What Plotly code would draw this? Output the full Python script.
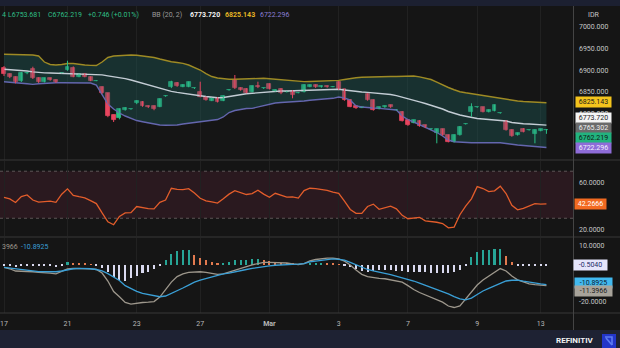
import plotly.graph_objects as go

W, H = 620, 348


def px(x):
    return x / W


def py(y):
    return 1 - y / H


# ---------------- data ----------------
tick_idx = [0, 11, 23, 34, 46, 58, 70, 82, 93]
tick_lbl = ["17", "21", "23", "27", "<b>Mar</b>", "3", "7", "9", "13"]

opens = [
    6905.3, 6891.5, 6884.6, 6875.4, 6893.0, 6903.0, 6882.3, 6873.8, 6881.6, 6877.7,
    6894.0, 6900.7, 6906.0, 6885.3, 6891.5, 6885.3, 6876.0, 6860.9, 6847.0, 6797.0,
    6789.4, 6808.6, 6810.0, 6824.0, 6827.7, 6817.8, 6817.8, 6816.2, 6840.5, 6860.9,
    6871.5, 6862.2, 6862.2, 6858.5, 6850.7, 6839.2, 6830.0, 6836.9, 6830.0, 6854.5,
    6877.7, 6859.9, 6857.6, 6850.0, 6864.5, 6858.5, 6868.4, 6852.3, 6857.6, 6850.5,
    6852.3, 6848.0, 6850.7, 6862.2, 6866.2, 6860.9, 6863.8, 6862.0, 6872.4, 6856.2,
    6831.6, 6817.8, 6814.0, 6845.4, 6831.6, 6811.6, 6814.8, 6820.1, 6808.0, 6804.6,
    6785.5, 6779.4, 6783.9, 6773.3, 6764.0, 6754.9, 6764.1, 6751.0, 6735.5, 6751.0,
    6776.0, 6804.6, 6814.5, 6814.8, 6804.6, 6806.9, 6801.0, 6783.9, 6762.5, 6751.0,
    6765.5, 6762.0, 6752.6, 6760.9, 6761.473]
highs = [
    6909.9, 6893.0, 6886.0, 6896.0, 6896.0, 6908.3, 6884.0, 6883.0, 6883.0, 6879.0,
    6895.0, 6922.1, 6909.0, 6892.0, 6893.0, 6886.0, 6877.0, 6863.0, 6848.0, 6798.0,
    6812.0, 6815.0, 6811.0, 6831.0, 6829.0, 6819.0, 6819.0, 6835.0, 6842.0, 6876.0,
    6873.0, 6868.0, 6874.0, 6860.0, 6873.8, 6840.0, 6837.0, 6838.0, 6842.0, 6856.0,
    6889.2, 6861.0, 6859.0, 6865.0, 6873.8, 6860.0, 6870.0, 6856.0, 6859.0, 6852.0,
    6854.0, 6849.5, 6868.0, 6867.5, 6867.5, 6865.0, 6865.0, 6863.5, 6875.0, 6857.0,
    6833.0, 6819.0, 6815.5, 6847.0, 6833.0, 6816.0, 6819.0, 6821.0, 6809.5, 6806.0,
    6787.0, 6786.0, 6785.0, 6774.5, 6765.5, 6765.5, 6765.5, 6752.0, 6752.5, 6771.5,
    6777.5, 6824.0, 6816.0, 6816.0, 6810.0, 6821.0, 6802.5, 6785.0, 6764.0, 6756.5,
    6767.0, 6763.5, 6764.0, 6765.5, 6764.5]
lows = [
    6886.9, 6882.0, 6870.0, 6873.0, 6891.0, 6880.0, 6871.0, 6872.0, 6876.0, 6871.0,
    6893.0, 6899.0, 6884.0, 6884.0, 6884.0, 6875.0, 6875.0, 6846.0, 6792.0, 6780.9,
    6787.0, 6807.0, 6809.0, 6822.0, 6816.0, 6813.0, 6808.0, 6815.0, 6839.0, 6859.0,
    6862.0, 6861.0, 6861.0, 6857.0, 6838.0, 6830.0, 6829.0, 6826.0, 6829.0, 6853.0,
    6857.0, 6853.0, 6847.0, 6849.0, 6859.0, 6857.0, 6856.0, 6851.0, 6845.0, 6849.0,
    6835.5, 6847.0, 6849.0, 6861.0, 6859.5, 6860.0, 6860.0, 6861.0, 6855.0, 6830.0,
    6815.0, 6811.0, 6813.0, 6830.0, 6807.0, 6810.0, 6813.5, 6813.5, 6807.0, 6782.0,
    6772.0, 6778.0, 6770.0, 6767.0, 6763.0, 6731.8, 6749.5, 6734.0, 6734.0, 6749.5,
    6775.0, 6793.1, 6813.5, 6803.0, 6803.0, 6805.5, 6800.0, 6761.0, 6747.0, 6749.5,
    6757.0, 6761.0, 6731.8, 6759.5, 6753.681]
closes = [
    6891.5, 6884.6, 6873.0, 6893.8, 6894.0, 6882.3, 6873.0, 6881.6, 6877.7, 6872.4,
    6894.5, 6908.3, 6885.3, 6890.8, 6885.3, 6876.1, 6876.5, 6848.4, 6794.7, 6785.5,
    6810.2, 6813.9, 6810.5, 6830.0, 6817.8, 6814.8, 6810.2, 6833.9, 6841.0, 6873.8,
    6863.8, 6866.2, 6873.0, 6859.0, 6839.2, 6831.6, 6835.5, 6827.7, 6840.8, 6855.0,
    6858.5, 6854.6, 6848.4, 6863.8, 6860.9, 6859.0, 6857.6, 6854.6, 6847.0, 6851.0,
    6843.1, 6848.5, 6866.2, 6866.2, 6860.9, 6863.8, 6860.9, 6862.5, 6856.2, 6831.6,
    6816.2, 6812.5, 6814.5, 6831.6, 6808.6, 6814.8, 6817.8, 6814.8, 6808.5, 6783.9,
    6774.0, 6784.8, 6771.7, 6768.7, 6764.5, 6764.1, 6751.0, 6735.5, 6751.0, 6770.1,
    6776.5, 6814.8, 6815.0, 6804.6, 6808.6, 6819.4, 6801.5, 6762.5, 6748.7, 6754.9,
    6758.6, 6762.5, 6762.5, 6764.1, 6762.219]

bb_upper = [
    6936.9, 6936.4, 6936.4, 6935.9, 6935.7, 6935.3, 6933.0, 6919.1, 6913.4, 6912.2,
    6913.4, 6915.7, 6915.7, 6913.4, 6912.2, 6911.5, 6911.1, 6919.1, 6929.5, 6933.0,
    6934.1, 6935.3, 6935.3, 6934.6, 6933.4, 6931.8, 6929.5, 6926.0, 6922.6, 6919.8,
    6918.0, 6916.1, 6912.2, 6906.5, 6900.7, 6892.6, 6885.7, 6882.3, 6880.0, 6879.3,
    6879.5, 6880.0, 6880.4, 6881.1, 6881.3, 6881.6, 6880.4, 6879.3, 6878.6, 6877.6,
    6875.3, 6873.7, 6874.0, 6874.4, 6874.9, 6875.3, 6875.8, 6876.0, 6876.9, 6878.8,
    6881.1, 6882.9, 6883.9, 6884.6, 6885.0, 6885.3, 6885.5, 6885.7, 6885.7, 6886.4,
    6886.9, 6886.9, 6885.0, 6882.7, 6878.8, 6873.0, 6866.1, 6860.4, 6855.3, 6850.7,
    6848.2, 6845.9, 6843.8, 6842.0, 6840.1, 6837.3, 6835.5, 6833.2, 6830.4, 6829.3,
    6828.1, 6827.4, 6827.0, 6826.5, 6825.143]
bb_mid = [
    6902.5, 6901.8, 6901.1, 6900.0, 6898.4, 6896.5, 6895.0, 6894.2, 6893.8, 6893.5,
    6893.3, 6893.1, 6892.6, 6892.1, 6891.7, 6891.2, 6890.8, 6889.6, 6887.3, 6885.7,
    6883.4, 6880.9, 6877.6, 6874.0, 6870.3, 6866.1, 6862.2, 6858.3, 6854.6, 6851.6,
    6849.3, 6847.0, 6844.9, 6843.1, 6841.5, 6839.6, 6838.0, 6836.9, 6837.3, 6839.6,
    6842.4, 6844.2, 6846.1, 6847.2, 6848.4, 6849.5, 6850.7, 6851.8, 6852.3, 6852.3,
    6852.8, 6853.7, 6854.6, 6855.1, 6855.5, 6855.8, 6856.0, 6856.2, 6856.2, 6854.6,
    6852.8, 6850.7, 6850.0, 6849.1, 6848.2, 6847.2, 6846.3, 6844.2, 6841.7, 6838.5,
    6835.0, 6831.6, 6827.4, 6823.5, 6819.6, 6816.1, 6810.8, 6805.1, 6800.5, 6797.0,
    6794.2, 6791.2, 6788.9, 6787.8, 6786.6, 6785.9, 6785.5, 6783.2, 6779.7, 6777.9,
    6776.9, 6776.3, 6775.8, 6775.3, 6773.720]
bb_lower = [
    6873.7, 6873.0, 6871.6, 6870.3, 6868.9, 6867.7, 6868.9, 6870.0, 6870.7, 6871.2,
    6871.4, 6871.4, 6871.4, 6871.4, 6871.4, 6870.7, 6866.1, 6843.1, 6822.3, 6810.8,
    6801.6, 6794.7, 6788.9, 6784.3, 6781.6, 6778.6, 6776.3, 6774.0, 6773.3, 6773.3,
    6774.0, 6776.3, 6778.1, 6780.2, 6782.0, 6783.2, 6784.8, 6786.6, 6792.4, 6802.8,
    6807.4, 6810.1, 6812.0, 6812.4, 6815.4, 6818.9, 6821.7, 6824.7, 6825.8, 6826.5,
    6827.0, 6827.7, 6829.3, 6830.9, 6832.1, 6833.2, 6834.3, 6835.5, 6838.5, 6836.2,
    6831.6, 6817.7, 6815.4, 6813.8, 6813.1, 6812.4, 6811.3, 6809.9, 6808.5, 6794.7,
    6786.6, 6780.9, 6775.1, 6769.4, 6763.6, 6756.7, 6748.6, 6739.4, 6735.3, 6734.1,
    6733.2, 6733.2, 6733.2, 6733.2, 6733.2, 6733.2, 6733.2, 6731.4, 6729.1, 6727.9,
    6726.7, 6725.6, 6724.4, 6723.3, 6722.296]

rsi = [
    47.8, 46.5, 43.4, 48.5, 49.8, 45.5, 43.8, 44.5, 44.6, 43.5,
    50.5, 55.0, 49.5, 48.3, 47.3, 45.0, 42.5, 34.5, 27.0, 24.5,
    31.5, 34.6, 34.7, 40.0, 39.0, 38.2, 38.0, 43.5, 45.5, 55.5,
    54.5, 54.3, 55.2, 51.5, 47.0, 44.8, 44.0, 42.9, 46.5, 50.5,
    53.4, 51.8, 50.2, 51.0, 53.8, 50.5, 47.8, 51.2, 49.5, 48.0,
    48.1, 47.2, 53.5, 55.5, 55.2, 54.6, 53.8, 52.3, 51.2, 44.5,
    37.5, 34.2, 34.2, 40.0, 42.0, 37.6, 38.9, 40.3, 38.0, 32.5,
    29.6, 30.5, 30.8, 27.8, 27.3, 26.6, 25.5, 21.8, 22.5, 33.0,
    40.3, 46.5, 56.9, 55.3, 52.7, 53.3, 57.3, 51.0, 41.0, 37.2,
    38.4, 40.6, 42.5, 42.1, 42.2666]

macd = [
    -1.6, -2.3, -3.5, -3.5, -3.7, -3.9, -4.2, -4.3, -4.6, -5.1,
    -3.8, -2.4, -2.1, -2.1, -2.3, -2.4, -2.7, -4.6, -8.9, -14.6,
    -17.4, -20.5, -21.4, -20.8, -20.5, -20.3, -20.0, -17.6, -13.8, -9.5,
    -6.5, -5.1, -4.3, -4.1, -3.9, -4.2, -4.9, -5.3, -5.1, -4.1,
    -3.0, -1.9, -1.2, -0.2, 0.5, 1.1, 1.2, 1.1, 0.9, 0.8,
    0.3, 0.0, 0.5, 1.9, 2.7, 3.1, 3.4, 3.4, 3.0, 1.8,
    -0.3, -3.0, -5.3, -6.5, -7.1, -7.5, -7.7, -8.4, -8.9, -9.5,
    -11.4, -13.5, -15.1, -16.5, -17.8, -19.0, -20.3, -22.4, -23.2, -22.3,
    -18.6, -14.9, -11.1, -8.4, -6.2, -4.1, -2.2, -3.5, -6.2, -8.3,
    -9.6, -10.5, -10.9, -11.2, -11.3966]
signal = [
    -1.6, -1.9, -2.3, -2.6, -3.0, -3.4, -3.8, -3.9, -3.9, -3.9,
    -3.5, -2.7, -2.3, -2.1, -2.1, -2.3, -2.7, -3.5, -4.9, -6.8,
    -8.6, -11.4, -13.0, -14.5, -15.6, -16.3, -17.0, -17.4, -17.0, -15.7,
    -14.3, -12.7, -11.1, -9.5, -8.4, -7.5, -6.8, -5.9, -5.1, -4.6,
    -4.1, -3.4, -2.7, -2.1, -1.5, -1.1, -0.7, -0.4, -0.1, 0.1,
    0.1, 0.2, 0.5, 1.4, 1.9, 2.3, 2.7, 3.0, 2.8, 2.4,
    1.1, -0.3, -1.4, -2.7, -3.5, -4.3, -4.8, -5.4, -6.2, -7.0,
    -7.8, -8.9, -10.0, -11.1, -12.4, -13.5, -14.6, -15.9, -17.3, -18.6,
    -19.1, -18.1, -16.2, -14.3, -12.9, -11.6, -10.0, -8.9, -8.5, -8.4,
    -9.0, -9.6, -10.1, -10.5, -10.8925]
hist = [
    -0.8, -1.0, -1.3, -1.0, -0.8, -0.6, -0.6, -0.5, -0.7, -1.1,
    -0.4, 1.2, 0.8, 0.6, 0.4, 0.1, -0.6, -2.1, -3.9, -6.6,
    -8.4, -9.0, -7.5, -6.0, -4.8, -3.9, -2.4, -0.8, 2.4, 5.5,
    7.3, 7.8, 7.9, 5.1, 3.4, 2.4, 1.5, 0.6, 0.8, 1.5,
    2.2, 2.5, 2.7, 2.9, 3.0, 2.4, 2.0, 1.6, 1.0, 0.7,
    0.3, -0.1, 0.0, 0.5, 0.8, 0.8, 0.7, 0.4, 0.2, -0.5,
    -1.5, -2.5, -3.5, -3.9, -3.6, -3.2, -3.0, -3.2, -3.3, -3.5,
    -3.8, -4.0, -4.1, -4.3, -4.4, -4.5, -4.7, -4.8, -4.2, -2.8,
    -0.8, 3.8, 6.5, 7.6, 8.0, 8.2, 8.4, 4.5, 1.2, -0.3,
    -0.4, -0.5, -0.5, -0.5, -0.504]

price_ticks = [6800, 6850, 6900, 6950, 7000]
rsi_ticks = [20, 60]
macd_ticks = [10, -20]

# ---------------- style ----------------
BG = "#151515"
NAVY = "#1c2031"
SEP = "#393939"
GRID = "#212121"
FONT = "Roboto"
UP, DOWN = "#2bbf86", "#e8455f"

xs = list(range(len(closes)))
hist_colors = []
for i, v in enumerate(hist):
    prev = hist[i - 1] if i > 0 else 0
    if v < 0:
        hist_colors.append("#d9d9ef")
    elif v >= prev:
        hist_colors.append("#27a596")
    else:
        hist_colors.append("#e27a4f")

fig = go.Figure()

# Bollinger band fill + lines
fig.add_trace(go.Scatter(x=xs, y=bb_lower, mode="lines", line=dict(width=0),
                         hoverinfo="skip", xaxis="x", yaxis="y"))
fig.add_trace(go.Scatter(x=xs, y=bb_upper, mode="lines", line=dict(width=0),
                         fill="tonexty", fillcolor="rgba(30,98,94,0.37)",
                         hoverinfo="skip", xaxis="x", yaxis="y"))
fig.add_trace(go.Scatter(x=xs, y=bb_upper, mode="lines",
                         line=dict(color="#9e8a24", width=1.4), xaxis="x", yaxis="y"))
fig.add_trace(go.Scatter(x=xs, y=bb_mid, mode="lines",
                         line=dict(color="#c3ccd4", width=1.4), xaxis="x", yaxis="y"))
fig.add_trace(go.Scatter(x=xs, y=bb_lower, mode="lines",
                         line=dict(color="#6466ae", width=1.4), xaxis="x", yaxis="y"))

# candles: wicks + bodies per direction
for up, col in ((True, UP), (False, DOWN)):
    idx = [i for i in xs if (closes[i] >= opens[i]) == up]
    wx, wy = [], []
    for i in idx:
        wx += [i, i, None]
        wy += [lows[i], highs[i], None]
    fig.add_trace(go.Scatter(x=wx, y=wy, mode="lines", line=dict(color=col, width=1),
                             xaxis="x", yaxis="y", hoverinfo="skip"))
    fig.add_trace(go.Bar(x=idx, y=[abs(closes[i] - opens[i]) for i in idx],
                         base=[min(closes[i], opens[i]) for i in idx], width=0.68,
                         marker=dict(color=col, line=dict(color=col, width=0.8)),
                         xaxis="x", yaxis="y"))

# RSI
fig.add_trace(go.Scatter(x=xs, y=rsi, mode="lines",
                         line=dict(color="#e35d2b", width=1.3), xaxis="x2", yaxis="y2"))

# MACD
fig.add_trace(go.Bar(x=xs, y=hist, marker=dict(color=hist_colors, line=dict(width=0)),
                     width=0.36, xaxis="x3", yaxis="y3"))
fig.add_trace(go.Scatter(x=xs, y=macd, mode="lines",
                         line=dict(color="#9d978c", width=1.3), xaxis="x3", yaxis="y3"))
fig.add_trace(go.Scatter(x=xs, y=signal, mode="lines",
                         line=dict(color="#3a9fd6", width=1.3), xaxis="x3", yaxis="y3"))

XR = [-0.693, 98.6]
XD = [0, px(573)]
xcommon = dict(domain=XD, range=XR, tickvals=tick_idx, showgrid=True, gridcolor=GRID,
               gridwidth=1, zeroline=False, showline=False, ticks="", fixedrange=True)
ycommon = dict(side="right", showgrid=False, zeroline=False, showline=False, ticks="",
               ticklabelstandoff=5, tickfont=dict(family=FONT, size=7, color="#c6c6c6"))

fig.update_layout(
    width=W, height=H, margin=dict(l=0, r=0, t=0, b=0),
    paper_bgcolor=BG, plot_bgcolor="rgba(0,0,0,0)", showlegend=False,
    bargap=0, barmode="overlay", hovermode=False,
    font=dict(family=FONT, size=7, color="#c6c6c6"),
    xaxis=dict(**xcommon, anchor="y", showticklabels=False, rangeslider=dict(visible=False)),
    xaxis2=dict(**xcommon, anchor="y2", showticklabels=False),
    xaxis3=dict(**xcommon, anchor="y3", showticklabels=True, ticktext=tick_lbl,
                ticklabelstandoff=5, tickfont=dict(family=FONT, size=7, color="#b8b8b8")),
    yaxis=dict(**ycommon, domain=[py(159.5), py(6)], range=[6694.5, 7048.2], anchor="x",
               tickvals=price_ticks, ticktext=["%.3f" % v for v in price_ticks]),
    yaxis2=dict(**ycommon, domain=[py(236), py(161)], range=[14.9, 78.7], anchor="x2",
                tickvals=rsi_ticks, ticktext=["%.4f" % v for v in rsi_ticks]),
    yaxis3=dict(**ycommon, domain=[py(312.5), py(238)], range=[-25.9, 14.3], anchor="x3",
                tickvals=macd_ticks, ticktext=["%.4f" % v for v in macd_ticks]),
)

shapes = []
# navy bands
shapes.append(dict(type="rect", xref="paper", yref="paper", x0=0, x1=1, y0=py(6), y1=1,
                   fillcolor=NAVY, line=dict(width=0), layer="below"))
shapes.append(dict(type="rect", xref="paper", yref="paper", x0=0, x1=1, y0=0, y1=py(330),
                   fillcolor="#1e2233", line=dict(width=0), layer="below"))
# RSI band
shapes.append(dict(type="rect", xref="paper", yref="y2", x0=0, x1=px(573), y0=30, y1=70,
                   fillcolor="#2a191f", line=dict(width=0), layer="below"))
for lvl in (30, 70):
    shapes.append(dict(type="line", xref="paper", yref="y2", x0=0, x1=px(573), y0=lvl, y1=lvl,
                       line=dict(color="#5c5556", width=1, dash="dot"), layer="below"))
# separators
for yy in (160, 237, 313):
    shapes.append(dict(type="line", xref="paper", yref="paper", x0=0, x1=1, y0=py(yy), y1=py(yy),
                       line=dict(color=SEP, width=1)))
shapes.append(dict(type="line", xref="paper", yref="paper", x0=px(573.5), x1=px(573.5),
                   y0=py(6), y1=py(330), line=dict(color="#444444", width=1)))
# logo
shapes.append(dict(type="rect", xref="paper", yref="paper", x0=px(602), x1=px(616),
                   y0=py(348), y1=py(334), fillcolor="#2336c9", line=dict(width=0)))
shapes.append(dict(type="path", xref="paper", yref="paper",
                   path="M %f %f L %f %f L %f %f" % (px(605), py(337), px(612), py(337), px(612), py(345)),
                   line=dict(color="#5d7cf2", width=1.6)))
shapes.append(dict(type="line", xref="paper", yref="paper", x0=px(606), x1=px(612),
                   y0=py(338), y1=py(345), line=dict(color="#5d7cf2", width=1.6)))
fig.update_layout(shapes=shapes)

ann = []


def text(x, y, s, color, size=7, bold=False, xanchor="left"):
    ann.append(dict(x=px(x), y=py(y), xref="paper", yref="paper", xanchor=xanchor,
                    yanchor="middle", showarrow=False,
                    text=("<b>%s</b>" % s) if bold else s,
                    font=dict(family=FONT, size=size, color=color)))


def box(xc, y, s, bg, color, w=33):
    ann.append(dict(x=px(xc), y=py(y), xref="paper", yref="paper", xanchor="center",
                    yanchor="middle", showarrow=False, text=s, bgcolor=bg, borderpad=1,
                    width=w, height=8, font=dict(family=FONT, size=7, color=color)))


# main header
text(0, 15, "4", "#2fbf85")
text(6, 15, "L6753.681", "#2fbf85")
text(46, 15, "C6762.219", "#2fbf85")
text(86, 15, "+0.746 (+0.01%)", "#2fbf85")
text(150, 15, "BB (20, 2)", "#9a9a9a")
text(188, 15, "6773.720", "#f2f2f2", bold=True)
text(223, 15, "6825.143", "#e3b424", bold=True)
text(258, 15, "6722.296", "#8a7ed6")
text(593, 15, "IDR", "#c6c6c6", xanchor="center")
# MACD header
text(0, 246.5, "3966", "#9d978c")
text(19, 246.5, "-10.8925", "#3a9fd6")

# price labels
box(593, 102.3, "6825.143", "#f4c41d", "#1b1b1b")
box(593, 118, "6773.720", "#f4f4f4", "#1b1b1b")
box(593, 128, "6765.302", "#6a6a6a", "#f0f0f0")
box(593, 138, "6762.219", "#22b37f", "#0e1a14")
box(593, 148, "6722.296", "#8e6cd8", "#f4f0ff")
# RSI label
box(590, 203.7, "42.2666", "#f26a21", "#ffffff", w=29)
# MACD labels
box(590.5, 265, "-0.5040", "#e5e5fb", "#1c2a68", w=31)
box(593, 282.8, "-10.8925", "#41b9ef", "#0f2233", w=35)
box(593, 291.2, "-11.3966", "#a8a39a", "#1b1b1b", w=35)

# footer
text(574.5, 340.5, "REFINITIV", "#f2f2f2", size=8, bold=True, xanchor="center")
fig.update_layout(annotations=ann)

fig.write_html("out.html")
